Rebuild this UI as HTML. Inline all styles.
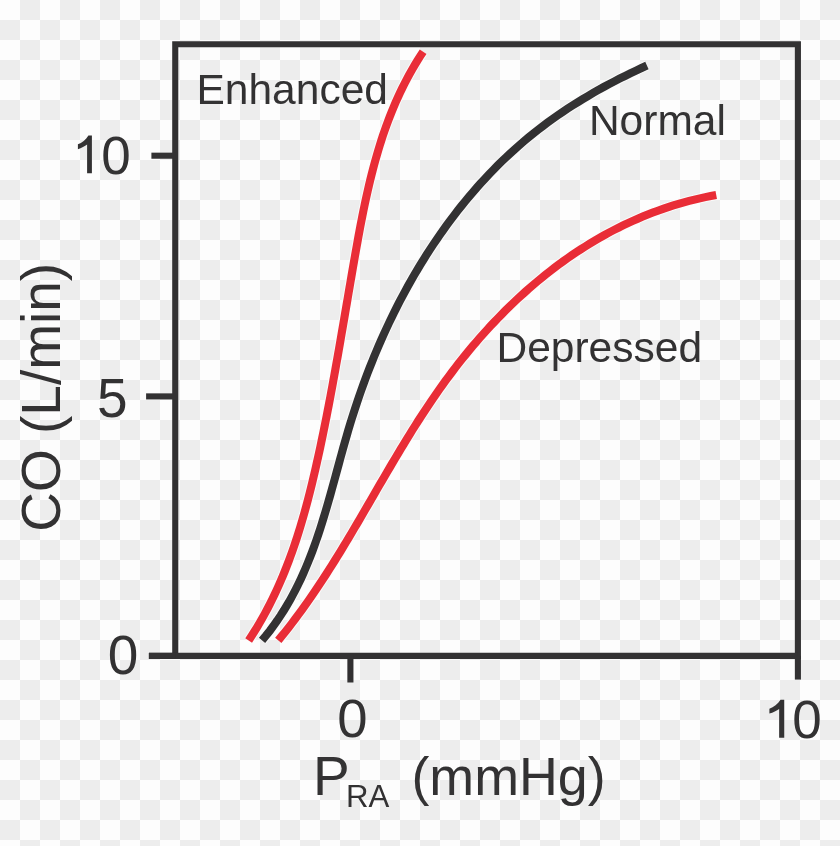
<!DOCTYPE html>
<html><head><meta charset="utf-8">
<style>
html,body{margin:0;padding:0;background:#fdfdfd;}
body{width:840px;height:846px;overflow:hidden;position:relative;}
svg{position:absolute;left:0;top:0;display:block;}
#wrap{position:absolute;left:0;top:0;width:840px;height:846px;will-change:transform;}
text{font-family:"Liberation Sans",sans-serif;fill:#333233;}
</style></head><body>
<div id="wrap">
<svg width="840" height="846" viewBox="0 0 840 846">
<defs>
<pattern id="chk" x="0" y="0" width="40" height="40" patternUnits="userSpaceOnUse">
<rect x="0" y="0" width="40" height="40" fill="#fdfdfd"/>
<rect x="20" y="0" width="20" height="20" fill="#ededed"/>
<rect x="0" y="20" width="20" height="20" fill="#ededed"/>
</pattern>
</defs>
<rect x="0" y="0" width="840" height="846" fill="url(#chk)"/>
<g fill="none" stroke="#333233" stroke-width="6.1">
<path d="M175.25 655.9 V44.2 H797.9 V655.9" stroke-linecap="square" stroke-linejoin="miter"/>
<path d="M148.9 655.9 H797.9"/>
<path d="M151.4 155.7 H175.25"/>
<path d="M146.1 396.4 H175.25"/>
<path d="M148.9 655.9 H175.25"/>
<path d="M350.4 655.9 V682.5"/>
<path d="M797.9 655.9 V679.6"/>
</g>
<g fill="none" stroke-linecap="butt">
<path d="M248.63 640.45 L251.55 636.00 L254.39 631.53 L257.16 627.03 L259.84 622.50 L262.45 617.95 L264.99 613.37 L267.46 608.77 L269.85 604.14 L272.18 599.50 L274.44 594.82 L276.64 590.13 L278.78 585.42 L280.85 580.68 L282.87 575.93 L284.82 571.15 L286.73 566.35 L288.58 561.54 L290.37 556.71 L292.12 551.86 L293.82 547.00 L295.47 542.11 L297.07 537.22 L298.64 532.30 L300.16 527.38 L301.64 522.43 L303.08 517.48 L304.49 512.51 L305.87 507.53 L307.21 502.54 L308.51 497.54 L309.80 492.52 L311.05 487.50 L312.28 482.47 L313.48 477.43 L314.66 472.38 L315.82 467.32 L316.96 462.26 L318.09 457.19 L319.20 452.11 L320.29 447.03 L321.37 441.94 L322.43 436.84 L323.49 431.74 L324.52 426.64 L325.55 421.53 L326.56 416.42 L327.56 411.30 L328.55 406.18 L329.53 401.05 L330.50 395.92 L331.46 390.79 L332.41 385.65 L333.35 380.51 L334.29 375.37 L335.22 370.23 L336.14 365.08 L337.05 359.93 L337.96 354.78 L338.86 349.63 L339.76 344.48 L340.65 339.32 L341.54 334.17 L342.43 329.01 L343.32 323.85 L344.20 318.70 L345.08 313.54 L345.96 308.38 L346.84 303.22 L347.72 298.07 L348.60 292.91 L349.48 287.76 L350.36 282.61 L351.24 277.46 L352.13 272.31 L353.02 267.16 L353.92 262.02 L354.81 256.87 L355.72 251.73 L356.63 246.60 L357.55 241.47 L358.49 236.34 L359.43 231.22 L360.40 226.10 L361.38 221.00 L362.38 215.90 L363.40 210.80 L364.45 205.72 L365.52 200.65 L366.63 195.58 L367.76 190.53 L368.93 185.49 L370.12 180.46 L371.36 175.45 L372.64 170.44 L373.95 165.46 L375.31 160.48 L376.72 155.53 L378.17 150.58 L379.67 145.66 L381.22 140.75 L382.82 135.86 L384.48 130.99 L386.20 126.14 L387.97 121.31 L389.81 116.50 L391.71 111.72 L393.68 106.95 L395.71 102.21 L397.82 97.49 L399.99 92.79 L402.24 88.12 L404.57 83.48 L406.97 78.86 L409.45 74.27 L412.02 69.70 L414.67 65.17 L417.40 60.66 L420.23 56.18 L423.14 51.73" stroke="#fdfdfd" stroke-width="10.1" opacity="0.8"/>
<path d="M248.63 640.45 L251.55 636.00 L254.39 631.53 L257.16 627.03 L259.84 622.50 L262.45 617.95 L264.99 613.37 L267.46 608.77 L269.85 604.14 L272.18 599.50 L274.44 594.82 L276.64 590.13 L278.78 585.42 L280.85 580.68 L282.87 575.93 L284.82 571.15 L286.73 566.35 L288.58 561.54 L290.37 556.71 L292.12 551.86 L293.82 547.00 L295.47 542.11 L297.07 537.22 L298.64 532.30 L300.16 527.38 L301.64 522.43 L303.08 517.48 L304.49 512.51 L305.87 507.53 L307.21 502.54 L308.51 497.54 L309.80 492.52 L311.05 487.50 L312.28 482.47 L313.48 477.43 L314.66 472.38 L315.82 467.32 L316.96 462.26 L318.09 457.19 L319.20 452.11 L320.29 447.03 L321.37 441.94 L322.43 436.84 L323.49 431.74 L324.52 426.64 L325.55 421.53 L326.56 416.42 L327.56 411.30 L328.55 406.18 L329.53 401.05 L330.50 395.92 L331.46 390.79 L332.41 385.65 L333.35 380.51 L334.29 375.37 L335.22 370.23 L336.14 365.08 L337.05 359.93 L337.96 354.78 L338.86 349.63 L339.76 344.48 L340.65 339.32 L341.54 334.17 L342.43 329.01 L343.32 323.85 L344.20 318.70 L345.08 313.54 L345.96 308.38 L346.84 303.22 L347.72 298.07 L348.60 292.91 L349.48 287.76 L350.36 282.61 L351.24 277.46 L352.13 272.31 L353.02 267.16 L353.92 262.02 L354.81 256.87 L355.72 251.73 L356.63 246.60 L357.55 241.47 L358.49 236.34 L359.43 231.22 L360.40 226.10 L361.38 221.00 L362.38 215.90 L363.40 210.80 L364.45 205.72 L365.52 200.65 L366.63 195.58 L367.76 190.53 L368.93 185.49 L370.12 180.46 L371.36 175.45 L372.64 170.44 L373.95 165.46 L375.31 160.48 L376.72 155.53 L378.17 150.58 L379.67 145.66 L381.22 140.75 L382.82 135.86 L384.48 130.99 L386.20 126.14 L387.97 121.31 L389.81 116.50 L391.71 111.72 L393.68 106.95 L395.71 102.21 L397.82 97.49 L399.99 92.79 L402.24 88.12 L404.57 83.48 L406.97 78.86 L409.45 74.27 L412.02 69.70 L414.67 65.17 L417.40 60.66 L420.23 56.18 L423.14 51.73" stroke="#e92d37" stroke-width="8.1"/>
<path d="M262.06 640.42 L266.05 635.58 L269.89 630.68 L273.57 625.72 L277.11 620.71 L280.51 615.65 L283.78 610.54 L286.91 605.38 L289.92 600.17 L292.82 594.91 L295.60 589.61 L298.26 584.27 L300.83 578.89 L303.30 573.47 L305.67 568.01 L307.96 562.52 L310.16 557.00 L312.29 551.44 L314.34 545.86 L316.33 540.24 L318.25 534.61 L320.12 528.94 L321.93 523.26 L323.70 517.55 L325.42 511.83 L327.11 506.09 L328.77 500.33 L330.41 494.56 L332.02 488.78 L333.62 482.99 L335.20 477.19 L336.79 471.39 L338.37 465.58 L339.95 459.77 L341.55 453.96 L343.16 448.15 L344.80 442.34 L346.46 436.54 L348.15 430.74 L349.88 424.95 L351.64 419.17 L353.46 413.41 L355.32 407.65 L357.22 401.91 L359.17 396.18 L361.17 390.47 L363.21 384.77 L365.30 379.09 L367.44 373.43 L369.63 367.78 L371.86 362.15 L374.13 356.54 L376.46 350.95 L378.83 345.39 L381.25 339.84 L383.72 334.32 L386.24 328.82 L388.80 323.34 L391.42 317.89 L394.08 312.47 L396.79 307.07 L399.55 301.70 L402.36 296.36 L405.21 291.04 L408.12 285.76 L411.08 280.50 L414.08 275.28 L417.14 270.09 L420.25 264.93 L423.40 259.81 L426.61 254.71 L429.87 249.66 L433.17 244.64 L436.53 239.65 L439.94 234.71 L443.40 229.80 L446.91 224.93 L450.48 220.11 L454.10 215.32 L457.77 210.58 L461.49 205.88 L465.26 201.22 L469.09 196.61 L472.98 192.05 L476.92 187.53 L480.91 183.06 L484.96 178.65 L489.06 174.28 L493.22 169.96 L497.43 165.70 L501.70 161.49 L506.03 157.34 L510.42 153.24 L514.86 149.20 L519.36 145.21 L523.91 141.29 L528.53 137.42 L533.20 133.62 L537.94 129.88 L542.73 126.20 L547.58 122.58 L552.49 119.03 L557.44 115.54 L562.45 112.11 L567.50 108.74 L572.60 105.44 L577.74 102.20 L582.91 99.01 L588.12 95.90 L593.36 92.84 L598.63 89.84 L603.93 86.90 L609.25 84.03 L614.59 81.21 L619.95 78.45 L625.33 75.76 L630.71 73.12 L636.11 70.54 L641.51 68.02 L646.92 65.56" stroke="#fdfdfd" stroke-width="10.1" opacity="0.8"/>
<path d="M262.06 640.42 L266.05 635.58 L269.89 630.68 L273.57 625.72 L277.11 620.71 L280.51 615.65 L283.78 610.54 L286.91 605.38 L289.92 600.17 L292.82 594.91 L295.60 589.61 L298.26 584.27 L300.83 578.89 L303.30 573.47 L305.67 568.01 L307.96 562.52 L310.16 557.00 L312.29 551.44 L314.34 545.86 L316.33 540.24 L318.25 534.61 L320.12 528.94 L321.93 523.26 L323.70 517.55 L325.42 511.83 L327.11 506.09 L328.77 500.33 L330.41 494.56 L332.02 488.78 L333.62 482.99 L335.20 477.19 L336.79 471.39 L338.37 465.58 L339.95 459.77 L341.55 453.96 L343.16 448.15 L344.80 442.34 L346.46 436.54 L348.15 430.74 L349.88 424.95 L351.64 419.17 L353.46 413.41 L355.32 407.65 L357.22 401.91 L359.17 396.18 L361.17 390.47 L363.21 384.77 L365.30 379.09 L367.44 373.43 L369.63 367.78 L371.86 362.15 L374.13 356.54 L376.46 350.95 L378.83 345.39 L381.25 339.84 L383.72 334.32 L386.24 328.82 L388.80 323.34 L391.42 317.89 L394.08 312.47 L396.79 307.07 L399.55 301.70 L402.36 296.36 L405.21 291.04 L408.12 285.76 L411.08 280.50 L414.08 275.28 L417.14 270.09 L420.25 264.93 L423.40 259.81 L426.61 254.71 L429.87 249.66 L433.17 244.64 L436.53 239.65 L439.94 234.71 L443.40 229.80 L446.91 224.93 L450.48 220.11 L454.10 215.32 L457.77 210.58 L461.49 205.88 L465.26 201.22 L469.09 196.61 L472.98 192.05 L476.92 187.53 L480.91 183.06 L484.96 178.65 L489.06 174.28 L493.22 169.96 L497.43 165.70 L501.70 161.49 L506.03 157.34 L510.42 153.24 L514.86 149.20 L519.36 145.21 L523.91 141.29 L528.53 137.42 L533.20 133.62 L537.94 129.88 L542.73 126.20 L547.58 122.58 L552.49 119.03 L557.44 115.54 L562.45 112.11 L567.50 108.74 L572.60 105.44 L577.74 102.20 L582.91 99.01 L588.12 95.90 L593.36 92.84 L598.63 89.84 L603.93 86.90 L609.25 84.03 L614.59 81.21 L619.95 78.45 L625.33 75.76 L630.71 73.12 L636.11 70.54 L641.51 68.02 L646.92 65.56" stroke="#333233" stroke-width="8.1"/>
<path d="M278.25 640.37 L281.72 636.16 L285.13 631.92 L288.50 627.65 L291.83 623.36 L295.12 619.03 L298.36 614.68 L301.57 610.31 L304.74 605.91 L307.87 601.48 L310.97 597.03 L314.04 592.57 L317.07 588.08 L320.07 583.57 L323.05 579.04 L326.00 574.50 L328.92 569.93 L331.82 565.36 L334.70 560.76 L337.56 556.16 L340.39 551.54 L343.21 546.91 L346.02 542.27 L348.81 537.62 L351.58 532.96 L354.34 528.29 L357.10 523.62 L359.84 518.94 L362.58 514.25 L365.31 509.56 L368.04 504.87 L370.76 500.18 L373.49 495.48 L376.21 490.79 L378.93 486.09 L381.66 481.40 L384.40 476.71 L387.14 472.03 L389.88 467.35 L392.64 462.68 L395.41 458.01 L398.19 453.35 L400.98 448.70 L403.79 444.06 L406.62 439.43 L409.46 434.81 L412.33 430.21 L415.22 425.62 L418.12 421.04 L421.06 416.48 L424.02 411.94 L427.01 407.41 L430.02 402.90 L433.07 398.42 L436.15 393.95 L439.26 389.50 L442.41 385.08 L445.59 380.68 L448.81 376.31 L452.07 371.96 L455.37 367.64 L458.71 363.34 L462.08 359.08 L465.49 354.84 L468.94 350.63 L472.43 346.46 L475.96 342.32 L479.53 338.21 L483.13 334.13 L486.77 330.10 L490.45 326.09 L494.17 322.13 L497.92 318.20 L501.71 314.31 L505.54 310.47 L509.41 306.66 L513.32 302.90 L517.26 299.18 L521.24 295.50 L525.26 291.87 L529.31 288.29 L533.41 284.75 L537.54 281.26 L541.70 277.82 L545.91 274.43 L550.15 271.09 L554.43 267.81 L558.75 264.57 L563.10 261.39 L567.49 258.27 L571.92 255.20 L576.38 252.19 L580.88 249.24 L585.42 246.34 L590.00 243.51 L594.61 240.74 L599.26 238.03 L603.94 235.38 L608.67 232.79 L613.43 230.27 L618.22 227.82 L623.05 225.43 L627.92 223.11 L632.83 220.86 L637.77 218.68 L642.75 216.57 L647.76 214.54 L652.81 212.57 L657.90 210.68 L663.02 208.86 L668.18 207.12 L673.38 205.46 L678.61 203.87 L683.88 202.37 L689.18 200.94 L694.52 199.59 L699.90 198.32 L705.31 197.14 L710.76 196.04 L716.24 195.03" stroke="#fdfdfd" stroke-width="10.1" opacity="0.8"/>
<path d="M278.25 640.37 L281.72 636.16 L285.13 631.92 L288.50 627.65 L291.83 623.36 L295.12 619.03 L298.36 614.68 L301.57 610.31 L304.74 605.91 L307.87 601.48 L310.97 597.03 L314.04 592.57 L317.07 588.08 L320.07 583.57 L323.05 579.04 L326.00 574.50 L328.92 569.93 L331.82 565.36 L334.70 560.76 L337.56 556.16 L340.39 551.54 L343.21 546.91 L346.02 542.27 L348.81 537.62 L351.58 532.96 L354.34 528.29 L357.10 523.62 L359.84 518.94 L362.58 514.25 L365.31 509.56 L368.04 504.87 L370.76 500.18 L373.49 495.48 L376.21 490.79 L378.93 486.09 L381.66 481.40 L384.40 476.71 L387.14 472.03 L389.88 467.35 L392.64 462.68 L395.41 458.01 L398.19 453.35 L400.98 448.70 L403.79 444.06 L406.62 439.43 L409.46 434.81 L412.33 430.21 L415.22 425.62 L418.12 421.04 L421.06 416.48 L424.02 411.94 L427.01 407.41 L430.02 402.90 L433.07 398.42 L436.15 393.95 L439.26 389.50 L442.41 385.08 L445.59 380.68 L448.81 376.31 L452.07 371.96 L455.37 367.64 L458.71 363.34 L462.08 359.08 L465.49 354.84 L468.94 350.63 L472.43 346.46 L475.96 342.32 L479.53 338.21 L483.13 334.13 L486.77 330.10 L490.45 326.09 L494.17 322.13 L497.92 318.20 L501.71 314.31 L505.54 310.47 L509.41 306.66 L513.32 302.90 L517.26 299.18 L521.24 295.50 L525.26 291.87 L529.31 288.29 L533.41 284.75 L537.54 281.26 L541.70 277.82 L545.91 274.43 L550.15 271.09 L554.43 267.81 L558.75 264.57 L563.10 261.39 L567.49 258.27 L571.92 255.20 L576.38 252.19 L580.88 249.24 L585.42 246.34 L590.00 243.51 L594.61 240.74 L599.26 238.03 L603.94 235.38 L608.67 232.79 L613.43 230.27 L618.22 227.82 L623.05 225.43 L627.92 223.11 L632.83 220.86 L637.77 218.68 L642.75 216.57 L647.76 214.54 L652.81 212.57 L657.90 210.68 L663.02 208.86 L668.18 207.12 L673.38 205.46 L678.61 203.87 L683.88 202.37 L689.18 200.94 L694.52 199.59 L699.90 198.32 L705.31 197.14 L710.76 196.04 L716.24 195.03" stroke="#e92d37" stroke-width="8.1"/>
</g>
<text x="0" y="0" font-size="42.5" transform="translate(196.50 103.75)">Enhanced</text>
<text x="0" y="0" font-size="42.5" transform="translate(588.90 135.30)">Normal</text>
<text x="0" y="0" font-size="42.5" transform="translate(496.50 362.40)">Depressed</text>
<text x="0" y="0" font-size="53" transform="translate(101.20 173.70)">0</text>
<text x="0" y="0" font-size="55" transform="translate(97.10 416.60)">5</text>
<text x="0" y="0" font-size="55" transform="translate(107.85 674.40)">0</text>
<text x="0" y="0" font-size="54.5" transform="translate(337.30 736.90)">0</text>
<text x="0" y="0" font-size="53" transform="translate(792.20 737.60)">0</text>
<text x="0" y="0" font-size="55" transform="translate(312.90 794.60)">P</text>
<text x="0" y="0" font-size="31.2" transform="translate(346.00 806.90)">RA</text>
<text x="0" y="0" font-size="53.8" transform="translate(411.40 794.50)">(mmHg)</text>
<text x="0" y="0" font-size="55" transform="translate(59.50 531.80) rotate(-90)">CO (L/min)</text>
<path transform="translate(77.90 173.30) scale(1.0 1)" fill="#333233" d="M10.5 -37.9 L14.0 -37.9 L14.0 0 L9.2 0 L9.2 -28.7 C7.0 -27.2 3.5 -25.2 0 -24.1 L0 -29.0 C4.0 -30.6 8.0 -33.5 10.5 -37.9 Z"/>
<path transform="translate(769.40 737.70) scale(1.06 1)" fill="#333233" d="M10.5 -37.9 L14.0 -37.9 L14.0 0 L9.2 0 L9.2 -28.7 C7.0 -27.2 3.5 -25.2 0 -24.1 L0 -29.0 C4.0 -30.6 8.0 -33.5 10.5 -37.9 Z"/>
</svg>
</div>
</body></html>
